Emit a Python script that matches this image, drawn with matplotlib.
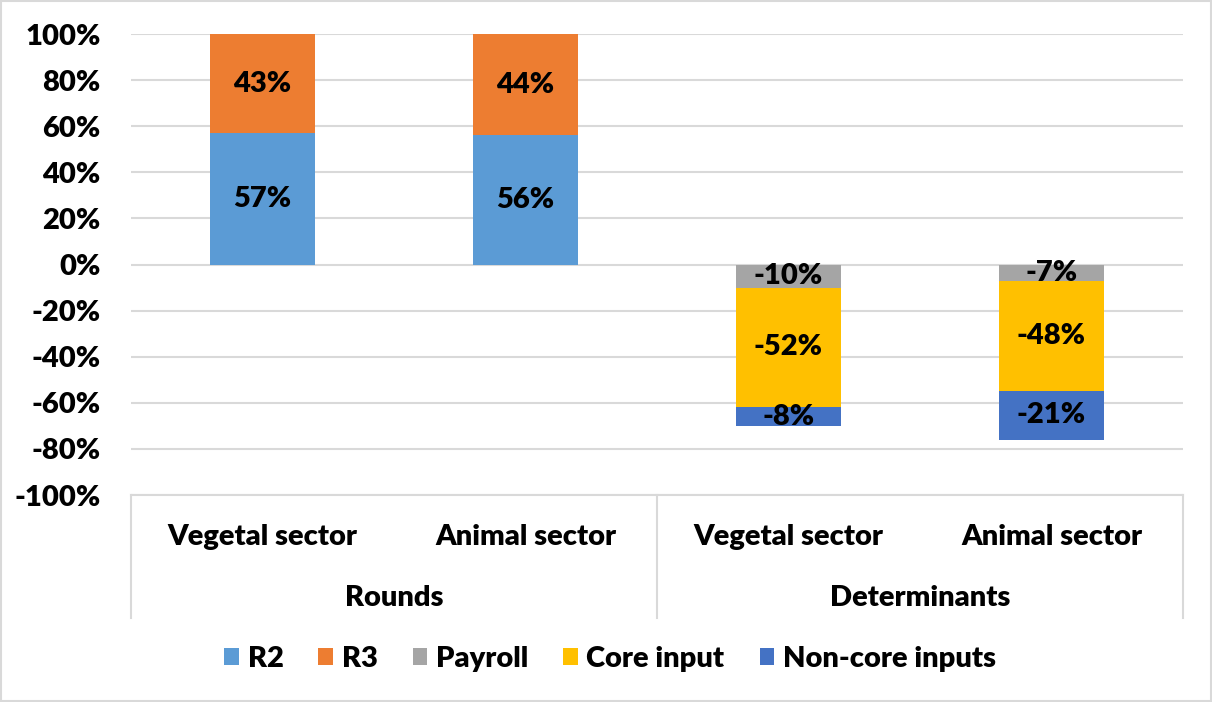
import numpy as np
import matplotlib
matplotlib.use('Agg')
import matplotlib.pyplot as plt
from matplotlib.patches import Rectangle

# data
categories = ["Vegetal sector", "Animal sector", "Vegetal sector", "Animal sector"]
groups = ["Rounds", "Determinants"]
series_names = ["R2", "R3", "Payroll", "Core input", "Non-core inputs"]
r2 = [57, 56, np.nan, np.nan]
r3 = [43, 44, np.nan, np.nan]
payroll = [np.nan, np.nan, -10, -7]
core_input = [np.nan, np.nan, -52, -48]
non_core = [np.nan, np.nan, -8, -21]
y_ticks = list(range(-100, 101, 20))

colors = ["#5B9BD5", "#ED7D31", "#A5A5A5", "#FFC000", "#4472C4"]

plt.rcParams['font.family'] = ['Lato', 'DejaVu Sans']
plt.rcParams['font.weight'] = 'heavy'
FS = 21
FW = 'heavy'

fig = plt.figure(figsize=(12.12, 7.02), dpi=100)
fig.patches.append(Rectangle((0.001, 0.001), 0.998, 0.997, transform=fig.transFigure,
                             fill=False, edgecolor="#d9d9d9", linewidth=1.5))
ax = fig.add_axes([131 / 1212, 1 - 495 / 702, 1052 / 1212, 461 / 702])

x = np.arange(len(categories))
pos_base = np.zeros(len(categories))
neg_base = np.zeros(len(categories))
for name, vals, col in zip(series_names, [r2, r3, payroll, core_input, non_core], colors):
    vals = np.array(vals, dtype=float)
    v = np.nan_to_num(vals)
    base = np.where(v >= 0, pos_base, neg_base)
    ax.bar(x, v, 0.40, bottom=base, color=col, label=name, zorder=2)
    for xi, b, val in zip(x, base, vals):
        if np.isnan(val):
            continue
        ax.text(xi, b + val / 2, f"{int(val)}%", ha='center', va='center',
                fontsize=FS, fontweight=FW, color='black', zorder=3)
    pos_base = pos_base + np.where(v > 0, v, 0)
    neg_base = neg_base + np.where(v < 0, v, 0)

ax.set_xlim(-0.5, len(categories) - 0.5)
ax.set_ylim(-100, 100)
ax.set_yticks(y_ticks)
ax.set_yticklabels([f"{t}%" for t in y_ticks], fontsize=FS, fontweight=FW)
ax.tick_params(axis='y', length=0, pad=22)
ax.set_xticks([])
ax.yaxis.grid(True, color="#d9d9d9", linewidth=1.5, zorder=0)
ax.set_axisbelow(True)
for s in ['top', 'right', 'left']:
    ax.spines[s].set_visible(False)
ax.spines['bottom'].set_color("#d9d9d9")
ax.spines['bottom'].set_linewidth(1.5)

# multi-level category axis
trans = ax.get_xaxis_transform()
ax_h_px = 461
depth = -(618 - 495) / ax_h_px
for xb in [-0.5, 1.5, 3.5]:
    ax.plot([xb, xb], [0, depth], transform=trans, color="#d9d9d9", lw=1.5, clip_on=False)
for xi, c in zip(x, categories):
    ax.text(xi, -(537 - 495) / ax_h_px, c, transform=trans, ha='center', va='center',
            fontsize=FS, fontweight=FW)
for gi, g in enumerate(groups):
    ax.text(gi * 2 + 0.5, -(598 - 495) / ax_h_px, g, transform=trans, ha='center',
            va='center', fontsize=FS, fontweight=FW)

handles, labels = ax.get_legend_handles_labels()
fig.legend(handles, labels, loc='center', bbox_to_anchor=(610 / 1212, 1 - 659 / 702),
           ncol=5, frameon=False, prop={'size': FS, 'weight': FW},
           handlelength=0.5, handleheight=0.5, handletextpad=0.3, columnspacing=1.2)

fig.savefig("out.png", dpi=100)
